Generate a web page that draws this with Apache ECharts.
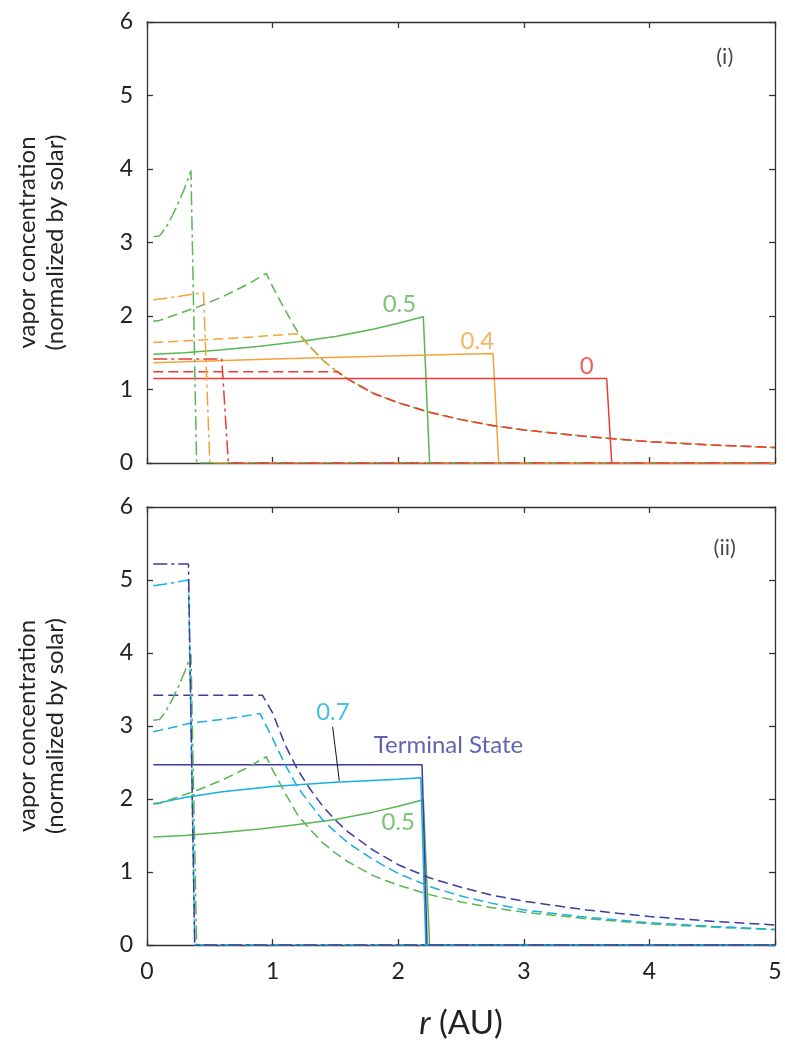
<!DOCTYPE html>
<html>
<head>
<meta charset="utf-8">
<script src="https://cdn.jsdelivr.net/npm/echarts@6/dist/echarts.min.js"></script>
<style>
  html, body { margin: 0; padding: 0; background: #fff; }
  #chart { width: 785px; height: 1045px; }
</style>
</head>
<body>
<div id="chart"></div>
<script>
// ---- axis ticks ----
const rTicks = [0, 1, 2, 3, 4, 5];
const cTicks = [0, 1, 2, 3, 4, 5, 6];

// ---- shared outer decay of the vapor profile (green/orange/red dashed) ----
const decayR = [1.2, 1.3, 1.4, 1.5, 1.6, 1.8, 2.0, 2.25, 2.5, 2.75, 3.0, 3.5, 4.0, 4.5, 5.0];
const decayC = [1.78, 1.58, 1.40, 1.26, 1.14, 0.95, 0.82, 0.69, 0.59, 0.51, 0.45, 0.36, 0.29, 0.245, 0.21];

// ---- panel (i): 0 (red) ----
const redSolidR = [0.05, 3.66, 3.70, 5.0];
const redSolidC = [1.15, 1.15, 0, 0];
const redDashR = [0.05, 1.52];
const redDashC = [1.24, 1.24];
const redDotR = [0.05, 0.595, 0.648, 5.0];
const redDotC = [1.415, 1.415, 0, 0];

// ---- panel (i): 0.4 (orange) ----
const orgSolidR = [0.05, 1.0, 2.0, 2.755, 2.80, 5.0];
const orgSolidC = [1.365, 1.415, 1.46, 1.49, 0, 0];
const orgDashR = [0.05, 0.4, 0.8, 1.2];
const orgDashC = [1.64, 1.67, 1.71, 1.76];
const orgDotR = [0.05, 0.15, 0.3, 0.45, 0.50, 5.0];
const orgDotC = [2.22, 2.24, 2.28, 2.32, 0, 0];

// ---- 0.5 (green), shown in both panels ----
const grnSolidR = [0.05, 0.3, 0.6, 0.9, 1.2, 1.5, 1.8, 2.0, 2.2, 2.25, 5.0];
const grnSolidC = [1.48, 1.50, 1.54, 1.59, 1.65, 1.72, 1.82, 1.90, 1.99, 0, 0];
const grnDashR = [0.05, 0.1, 0.2, 0.4, 0.6, 0.8, 0.95, 1.0, 1.1];
const grnDashC = [1.93, 1.94, 2.00, 2.12, 2.26, 2.43, 2.58, 2.40, 2.08];
const grnDotR = [0.05, 0.1, 0.15, 0.2, 0.25, 0.3, 0.35, 0.395, 5.0];
const grnDotC = [3.08, 3.09, 3.20, 3.36, 3.54, 3.74, 3.98, 0, 0];

// ---- panel (ii): 0.7 (cyan) ----
const cyaSolidR = [0.05, 0.1, 0.3, 0.6, 1.0, 1.5, 2.0, 2.18, 2.22, 5.0];
const cyaSolidC = [1.94, 1.95, 2.02, 2.10, 2.17, 2.23, 2.27, 2.29, 0, 0];
const cyaDashR = [0.05, 0.1, 0.35, 0.6, 0.9, 1.0, 1.1, 1.2, 1.3, 1.4, 1.5, 1.6, 1.8, 2.0, 2.25, 2.5, 2.75, 3.0, 3.5, 4.0, 4.5, 5.0];
const cyaDashC = [2.92, 2.94, 3.04, 3.09, 3.17, 2.83, 2.47, 2.16, 1.93, 1.71, 1.55, 1.40, 1.17, 0.98, 0.80, 0.67, 0.57, 0.48, 0.38, 0.305, 0.255, 0.215];
const cyaDotR = [0.05, 0.2, 0.33, 0.38, 5.0];
const cyaDotC = [4.92, 4.96, 5.00, 0, 0];

// ---- panel (ii): terminal state (navy) ----
const navSolidR = [0.05, 2.19, 2.23, 5.0];
const navSolidC = [2.47, 2.47, 0, 0];
const navDashR = [0.05, 0.92, 1.0, 1.1, 1.2, 1.3, 1.4, 1.5, 1.6, 1.8, 2.0, 2.25, 2.5, 2.75, 3.0, 3.5, 4.0, 4.5, 5.0];
const navDashC = [3.42, 3.42, 3.18, 2.74, 2.40, 2.13, 1.90, 1.71, 1.55, 1.30, 1.10, 0.92, 0.79, 0.68, 0.60, 0.48, 0.39, 0.325, 0.275];
const navDotR = [0.05, 0.33, 0.38, 5.0];
const navDotC = [5.22, 5.22, 0, 0];

// ---- curve labels (r, value, text) ----
const labelsTop = [
  [2.01, 2.16, '0.5', 'green'],
  [2.63, 1.66, '0.4', 'orange'],
  [3.50, 1.32, '0', 'red'],
  [4.60, 5.52, '(i)', 'black']
];
const labelsBottom = [
  [1.48, 3.19, '0.7', 'cyan'],
  [2.40, 2.74, 'Terminal State', 'navy'],
  [2.00, 1.68, '0.5', 'green'],
  [4.60, 5.44, '(ii)', 'black']
];
// leader from the "0.7" label to its curve
const leaderR = [1.478, 1.531];
const leaderC = [2.99, 2.25];

const COLORS = {
  red: '#ec3a36', orange: '#f2a43a', green: '#5ab552',
  cyan: '#16afe4', navy: '#3b3c9c', black: '#1a1a1a'
};
const FONT = 'Lato, "Open Sans", sans-serif';
const DASH = [10, 5];
const DASHDOT = [14, 4, 3, 4];

function pairs(r, c) { return r.map((x, i) => [x, c[i]]); }
function tail(after) {
  const out = [];
  decayR.forEach((x, i) => { if (x > after) out.push([x, decayC[i]]); });
  return out;
}

function line(name, data, color, type, grid) {
  return {
    name, type: 'line', xAxisIndex: grid * 2, yAxisIndex: grid * 2,
    data, symbol: 'none', silent: true, animation: false,
    lineStyle: { color, width: 1.5, type },
    z: 3
  };
}

function labelSeries(list, grid) {
  return {
    type: 'scatter', xAxisIndex: grid * 2, yAxisIndex: grid * 2,
    symbolSize: 0, silent: true, animation: false, z: 10,
    data: list.map(d => ({
      value: [d[0], d[1]], name: d[2],
      label: { color: COLORS[d[3]], fontSize: d[3] === 'black' ? 22 : 24 }
    })),
    label: {
      show: true, position: 'inside', formatter: '{b}',
      fontFamily: FONT, fontSize: 24
    }
  };
}

const series = [
  // panel (i)
  line('g-solid', pairs(grnSolidR, grnSolidC), COLORS.green, 'solid', 0),
  line('o-solid', pairs(orgSolidR, orgSolidC), COLORS.orange, 'solid', 0),
  line('r-solid', pairs(redSolidR, redSolidC), COLORS.red, 'solid', 0),
  line('g-dash', pairs(grnDashR, grnDashC).concat(tail(1.1)), COLORS.green, DASH, 0),
  line('o-dash', pairs(orgDashR, orgDashC).concat(tail(1.2)), COLORS.orange, DASH, 0),
  line('r-dash', pairs(redDashR, redDashC).concat(tail(1.52)), COLORS.red, DASH, 0),
  line('g-dot', pairs(grnDotR, grnDotC), COLORS.green, DASHDOT, 0),
  line('o-dot', pairs(orgDotR, orgDotC), COLORS.orange, DASHDOT, 0),
  line('r-dot', pairs(redDotR, redDotC), COLORS.red, DASHDOT, 0),
  labelSeries(labelsTop, 0),
  // panel (ii)
  line('g-solid2', pairs(grnSolidR, grnSolidC), COLORS.green, 'solid', 1),
  line('c-solid', pairs(cyaSolidR, cyaSolidC), COLORS.cyan, 'solid', 1),
  line('n-solid', pairs(navSolidR, navSolidC), COLORS.navy, 'solid', 1),
  line('g-dash2', pairs(grnDashR, grnDashC).concat(tail(1.1)), COLORS.green, DASH, 1),
  line('c-dash', pairs(cyaDashR, cyaDashC), COLORS.cyan, DASH, 1),
  line('n-dash', pairs(navDashR, navDashC), COLORS.navy, DASH, 1),
  line('g-dot2', pairs(grnDotR, grnDotC), COLORS.green, DASHDOT, 1),
  line('c-dot', pairs(cyaDotR, cyaDotC), COLORS.cyan, DASHDOT, 1),
  line('n-dot', pairs(navDotR, navDotC), COLORS.navy, DASHDOT, 1),
  {
    type: 'line', xAxisIndex: 2, yAxisIndex: 2, data: pairs(leaderR, leaderC),
    symbol: 'none', silent: true, animation: false, z: 4,
    lineStyle: { color: '#111', width: 1 }
  },
  labelSeries(labelsBottom, 1)
];

const AXIS_LINE = { show: true, onZero: false, lineStyle: { color: '#333', width: 1.3 } };
const TICK = { show: true, inside: true, length: 6, lineStyle: { color: '#333', width: 1.3 } };

function xAxes(grid, withLabels) {
  const base = {
    type: 'value', gridIndex: grid, min: rTicks[0], max: rTicks[rTicks.length - 1], interval: 1,
    splitLine: { show: false }, axisLine: AXIS_LINE, axisTick: TICK
  };
  const bottom = Object.assign({}, base, {
    position: 'bottom',
    axisLabel: {
      show: withLabels, fontFamily: FONT, fontSize: 23, color: '#222', margin: 15
    }
  });
  if (withLabels) {
    Object.assign(bottom, {
      name: '{i|r} (AU)', nameLocation: 'middle', nameGap: 62,
      nameTextStyle: {
        fontFamily: FONT, fontSize: 33, color: '#222',
        rich: { i: { fontFamily: FONT, fontSize: 33, fontStyle: 'italic', color: '#222' } }
      }
    });
  }
  const top = Object.assign({}, base, { position: 'top', axisLabel: { show: false } });
  return [bottom, top];
}

function yAxes(grid) {
  const base = {
    type: 'value', gridIndex: grid, min: cTicks[0], max: cTicks[cTicks.length - 1], interval: 1,
    splitLine: { show: false }, axisLine: AXIS_LINE, axisTick: TICK
  };
  const left = Object.assign({}, base, {
    position: 'left',
    axisLabel: { fontFamily: FONT, fontSize: 23, color: '#222', margin: 14 },
    name: 'vapor concentration\n(normalized by solar)',
    nameLocation: 'middle', nameRotate: 90, nameGap: 78,
    nameTextStyle: { fontFamily: FONT, fontSize: 24, color: '#222', lineHeight: 28 }
  });
  const right = Object.assign({}, base, { position: 'right', axisLabel: { show: false } });
  return [left, right];
}

const chart = echarts.init(document.getElementById('chart'), null, { renderer: 'canvas' });
chart.setOption({
  backgroundColor: '#fff',
  animation: false,
  grid: [
    { left: 147, top: 22, width: 628, height: 441 },
    { left: 147, top: 507, width: 628, height: 438 }
  ],
  xAxis: xAxes(0, false).concat(xAxes(1, true)),
  yAxis: yAxes(0).concat(yAxes(1)),
  series
});
</script>
</body>
</html>
